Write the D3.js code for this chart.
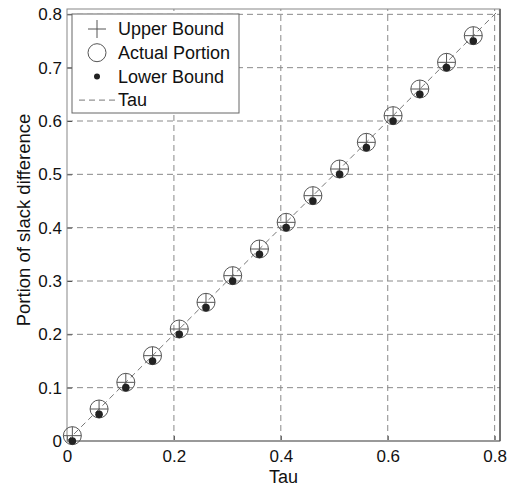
<!DOCTYPE html>
<html>
<head>
<meta charset="utf-8">
<script src="https://cdn.jsdelivr.net/npm/d3@7"></script>
<style>
  body { margin: 0; background: #fff; }
  text { font-family: "Liberation Sans", Arial, sans-serif; fill: #111; }
</style>
</head>
<body>
<div id="chart"></div>
<script>
// data
const tau = [0.01, 0.06, 0.11, 0.16, 0.21, 0.26, 0.31, 0.36, 0.41, 0.46, 0.51, 0.56, 0.61, 0.66, 0.71, 0.76];
const upperBound = [0.01, 0.06, 0.11, 0.16, 0.21, 0.26, 0.31, 0.36, 0.41, 0.46, 0.51, 0.56, 0.61, 0.66, 0.71, 0.76];
const actualPortion = [0.01, 0.06, 0.11, 0.16, 0.21, 0.26, 0.31, 0.36, 0.41, 0.46, 0.51, 0.56, 0.61, 0.66, 0.71, 0.76];
const lowerBound = [0.00, 0.05, 0.10, 0.15, 0.20, 0.25, 0.30, 0.35, 0.40, 0.45, 0.50, 0.55, 0.60, 0.65, 0.70, 0.75];
const xTicks = [0, 0.2, 0.4, 0.6, 0.8];
const yTicks = [0, 0.1, 0.2, 0.3, 0.4, 0.5, 0.6, 0.7, 0.8];
const legendItems = ["Upper Bound", "Actual Portion", "Lower Bound", "Tau"];

const W = 519, H = 486;
const mLeft = 67, mRight = 500, mTop = 9, mBottom = 441;

const svg = d3.select("#chart").append("svg")
  .attr("width", W)
  .attr("height", H);

const x = d3.scaleLinear().domain([0, 0.81]).range([mLeft, mRight]);
const y = d3.scaleLinear().domain([0, 0.81]).range([mBottom, mTop]);

const fmt = d => d === 0 ? "0" : d3.format(".1f")(d);

// grid
const grid = svg.append("g")
  .attr("stroke", "#8a8a8a")
  .attr("stroke-dasharray", "6,4");
grid.selectAll(".gx")
  .data(xTicks.filter(d => d > 0))
  .join("line")
  .attr("class", "gx")
  .attr("x1", d => x(d)).attr("x2", d => x(d))
  .attr("y1", mBottom).attr("y2", mTop);
grid.selectAll(".gy")
  .data(yTicks.filter(d => d > 0))
  .join("line")
  .attr("class", "gy")
  .attr("y1", d => y(d)).attr("y2", d => y(d))
  .attr("x1", mLeft).attr("x2", mRight);

// axes
const xAxis = svg.append("g")
  .attr("transform", `translate(0,${mBottom})`)
  .call(d3.axisBottom(x).tickValues(xTicks).tickFormat(fmt).tickSizeInner(-5).tickSizeOuter(0).tickPadding(9));
const yAxis = svg.append("g")
  .attr("transform", `translate(${mLeft},0)`)
  .call(d3.axisLeft(y).tickValues(yTicks).tickFormat(fmt).tickSizeInner(-5).tickSizeOuter(0).tickPadding(5));
[xAxis, yAxis].forEach(a => {
  a.select(".domain").remove();
  a.selectAll(".tick line").attr("stroke", "#555");
  a.selectAll(".tick text").style("font-size", "17px").attr("fill", "#111");
});

// box
svg.append("rect")
  .attr("x", mLeft).attr("y", mTop)
  .attr("width", mRight - mLeft).attr("height", mBottom - mTop)
  .attr("fill", "none").attr("stroke", "#888");
svg.append("line")
  .attr("x1", mLeft).attr("x2", mRight)
  .attr("y1", mBottom).attr("y2", mBottom)
  .attr("stroke", "#999").attr("stroke-width", 2);
svg.append("line")
  .attr("x1", mRight).attr("x2", mRight)
  .attr("y1", mTop).attr("y2", mBottom)
  .attr("stroke", "#222");

// tau line
svg.append("line")
  .attr("x1", x(0)).attr("y1", y(0))
  .attr("x2", x(0.81)).attr("y2", y(0.81))
  .attr("stroke", "#777")
  .attr("stroke-dasharray", "6,4");

// markers
const r = 9;
svg.append("g").selectAll("circle")
  .data(tau.map((t, i) => [t, actualPortion[i]]))
  .join("circle")
  .attr("cx", d => x(d[0])).attr("cy", d => y(d[1]))
  .attr("r", r)
  .attr("fill", "none").attr("stroke", "#555");

svg.append("g").selectAll("path")
  .data(tau.map((t, i) => [t, upperBound[i]]))
  .join("path")
  .attr("d", d => {
    const cx = x(d[0]), cy = y(d[1]);
    return `M${cx - r},${cy}H${cx + r}M${cx},${cy - r}V${cy + r}`;
  })
  .attr("stroke", "#555");

svg.append("g").selectAll("circle")
  .data(tau.map((t, i) => [t, lowerBound[i]]))
  .join("circle")
  .attr("cx", d => x(d[0])).attr("cy", d => y(d[1]))
  .attr("r", 3.8)
  .attr("fill", "#222");

// axis labels
svg.append("text")
  .attr("x", (mLeft + mRight) / 2).attr("y", 483)
  .attr("text-anchor", "middle")
  .style("font-size", "18px")
  .text("Tau");
svg.append("text")
  .attr("transform", `translate(30,220) rotate(-90)`)
  .attr("text-anchor", "middle")
  .style("font-size", "18.5px")
  .text("Portion of slack difference");

// legend
const lg = svg.append("g");
lg.append("rect")
  .attr("x", 72).attr("y", 14)
  .attr("width", 167).attr("height", 99)
  .attr("fill", "#fff").attr("stroke", "#666");
const rowY = i => 29 + i * 23.7;
const sx = 97;
lg.append("path")
  .attr("d", `M${sx - r},${rowY(0)}H${sx + r}M${sx},${rowY(0) - r}V${rowY(0) + r}`)
  .attr("stroke", "#555");
lg.append("circle")
  .attr("cx", sx).attr("cy", rowY(1)).attr("r", r)
  .attr("fill", "none").attr("stroke", "#555");
lg.append("circle")
  .attr("cx", sx).attr("cy", rowY(2)).attr("r", 3)
  .attr("fill", "#222");
lg.append("line")
  .attr("x1", 79).attr("x2", 116)
  .attr("y1", rowY(3)).attr("y2", rowY(3))
  .attr("stroke", "#777").attr("stroke-dasharray", "6,4");
lg.selectAll(".lt")
  .data(legendItems)
  .join("text")
  .attr("class", "lt")
  .attr("x", 118).attr("y", (d, i) => rowY(i))
  .attr("dy", "0.35em")
  .style("font-size", "18px")
  .text(d => d);
</script>
</body>
</html>
